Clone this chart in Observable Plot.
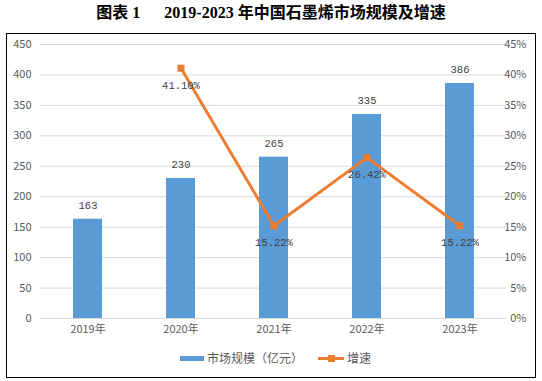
<!DOCTYPE html>
<html><head><meta charset="utf-8">
<script src="https://cdn.jsdelivr.net/npm/d3@7"></script>
<script src="https://cdn.jsdelivr.net/npm/@observablehq/plot@0.6"></script>
<style>
body{margin:0;background:#fff;width:542px;height:381px;position:relative;overflow:hidden;}
#title{position:absolute;left:0;top:0;width:542px;height:26px;text-align:center;font:bold 16px "Liberation Serif","Noto Sans CJK SC",serif;line-height:26px;color:#000;}
#box{position:absolute;left:6px;top:33px;width:528px;height:343px;border:1px solid #000;}
#chart{position:absolute;left:0;top:0;}
#legend{position:absolute;left:0;top:314px;width:528px;font:12px "Noto Sans CJK SC",sans-serif;color:#595959;}
.li{position:absolute;top:0;height:20px;line-height:20px;white-space:nowrap;}
</style></head><body>
<div id="title">图表 1<span style="display:inline-block;width:24px"></span>2019-2023 年中国石墨烯市场规模及增速</div>
<div id="box"><div id="chart"></div><div id="legend"></div></div>
<script>
const years = ["2019年","2020年","2021年","2022年","2023年"];
const marketSize = [163, 230, 265, 335, 386];
const growth = [null, 41.10, 15.22, 26.42, 15.22];
const leftTicks = [0,50,100,150,200,250,300,350,400,450];
const rightTickLabels = ["0%","5%","10%","15%","20%","25%","30%","35%","40%","45%"];
const seriesNames = ["市场规模（亿元）","增速"];
const barColor = "#5B9BD5";
const lineColor = "#ED7D31";

const bars = years.map((y,i)=>({year:y, value:marketSize[i]}));
const pts = years.map((y,i)=>({year:y, g:growth[i]})).filter(d=>d.g!=null);

const chart = Plot.plot({
  width: 528, height: 306,
  marginLeft: 33, marginRight: 29, marginTop: 10, marginBottom: 22,
  style:{fontFamily:'"Noto Sans CJK SC",sans-serif', fontSize:"11px", color:"#595959", background:"#fff"},
  x:{domain:years, paddingInner:0.69, paddingOuter:0.345, label:null},
  y:{domain:[0,450], label:null},
  marks:[
    Plot.gridY(leftTicks, {stroke:"#d9d9d9", strokeOpacity:1}),
    Plot.axisY(leftTicks, {anchor:"left", tickSize:0, tickPadding:9, label:null, fill:"#595959"}),
    Plot.axisY(leftTicks, {anchor:"right", tickSize:0, tickPadding:20, textAnchor:"end", label:null, fill:"#595959",
      tickFormat:(d)=>rightTickLabels[leftTicks.indexOf(d)]}),
    Plot.axisX({tickSize:0, tickPadding:7, label:null, fill:"#595959"}),
    Plot.barY(bars, {x:"year", y:"value", fill:barColor}),
    Plot.text(bars, {x:"year", y:"value", text:d=>String(d.value), dy:-14, fill:"#404040",
      fontFamily:'"Liberation Mono",monospace', fontSize:10.5}),
    Plot.line(pts, {x:"year", y:d=>d.g*10, stroke:lineColor, strokeWidth:3}),
    Plot.dot(pts, {x:"year", y:d=>d.g*10, symbol:"square", r:4, fill:lineColor, stroke:"none"}),
    Plot.text(pts, {x:"year", y:d=>d.g*10, text:d=>d.g.toFixed(2)+"%", dy:17, fill:"#404040",
      fontFamily:'"Liberation Mono",monospace', fontSize:10.5})
  ]
});
document.getElementById("chart").appendChild(chart);

const lg = document.getElementById("legend");
lg.innerHTML = `
<div class="li" style="left:173px"><span style="display:inline-block;width:24px;height:5px;background:${barColor};vertical-align:middle;margin-right:3px;position:relative;top:-1px"></span>${seriesNames[0]}</div>
<div class="li" style="left:311px"><span style="display:inline-block;width:26px;height:3px;background:${lineColor};vertical-align:middle;margin-right:3px;position:relative;top:-1px"><span style="position:absolute;left:10px;top:-2px;width:7px;height:7px;background:${lineColor}"></span></span>${seriesNames[1]}</div>`;
</script>
</body></html>
